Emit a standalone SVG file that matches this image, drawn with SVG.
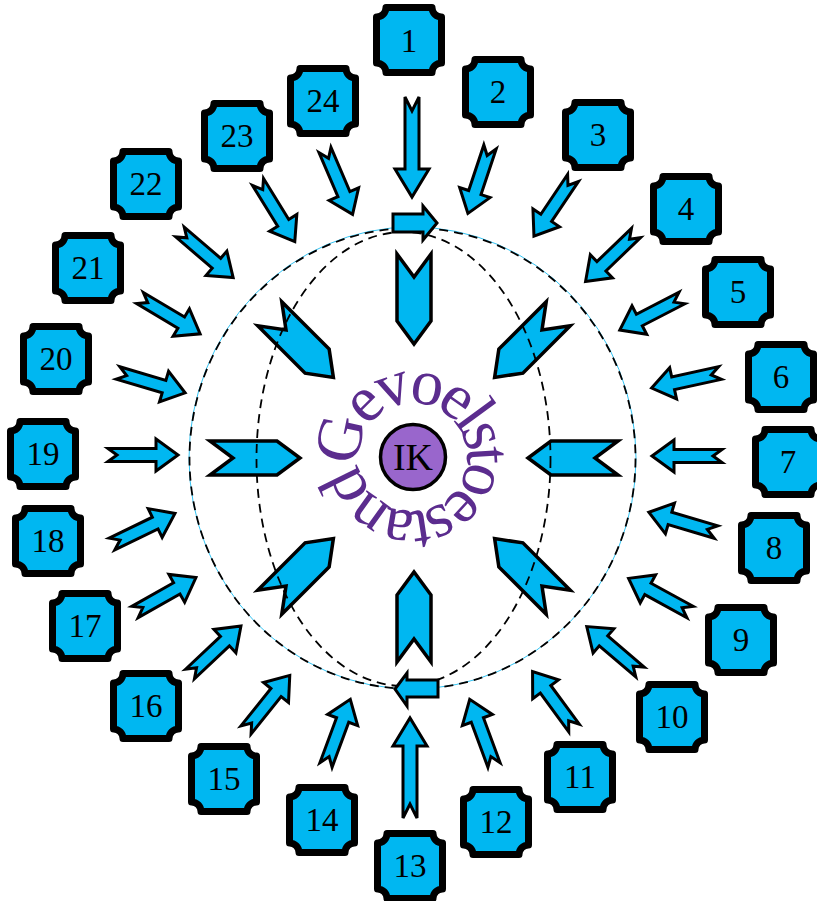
<svg xmlns="http://www.w3.org/2000/svg" xmlns:xlink="http://www.w3.org/1999/xlink" width="817" height="901" viewBox="0 0 817 901">
<style>
.bx{fill:#00B7F1;stroke:#000;stroke-width:7;stroke-linejoin:round}
.ar{fill:#00B7F1;stroke:#000;stroke-width:3;stroke-linejoin:miter}
.ia{fill:#00B7F1;stroke:#000;stroke-width:3.5;stroke-linejoin:miter}
.lb{font-family:"Liberation Serif","Times New Roman",serif;font-size:33px;fill:#000;text-anchor:middle}
.dash{fill:none;stroke:#000;stroke-width:1.8;stroke-dasharray:9 6}
</style>
<defs>
<path id="box" d="M-23,-32.5 H23 A9.5,9.5 0 0 0 32.5,-23 V23 A9.5,9.5 0 0 0 23,32.5 H-23 A9.5,9.5 0 0 0 -32.5,23 V-23 A9.5,9.5 0 0 0 -23,-32.5 Z"/>
<path id="a70" d="M0,-6.5 H48 V-16 L70,0 L48,16 V6.5 H0 L9,0 Z"/>
<path id="a100" d="M0,-7 H72 V-17 L100,0 L72,17 V7 H0 L14,0 Z"/>
<path id="inner" d="M0,-17 H67 L90,0 L67,17 H0 L23,0 Z"/>
<path id="arc" d="M359.8,466.4 A54,54 0 1 1 466.2,447.6 A54,54 0 1 1 359.8,466.4"/>
</defs>
<rect width="817" height="901" fill="#fff"/>

<g id="connectors">
<use href="#a100" class="ar" transform="translate(412,97) rotate(90)"/>
<use href="#a70" class="ar" transform="translate(490,147) rotate(108.4)"/>
<use href="#a70" class="ar" transform="translate(573,178) rotate(123.9)"/>
<use href="#a70" class="ar" transform="translate(636,233) rotate(136.1)"/>
<use href="#a70" class="ar" transform="translate(682,298) rotate(152.7)"/>
<use href="#a70" class="ar" transform="translate(720,373) rotate(167.6)"/>
<use href="#a70" class="ar" transform="translate(722,456) rotate(180)"/>
<use href="#a70" class="ar" transform="translate(716,532) rotate(196.4)"/>
<use href="#a70" class="ar" transform="translate(690,612) rotate(208.7)"/>
<use href="#a70" class="ar" transform="translate(640,672) rotate(220.5)"/>
<use href="#a70" class="ar" transform="translate(574,728) rotate(233.7)"/>
<use href="#a70" class="ar" transform="translate(494,765) rotate(249.7)"/>
<use href="#a100" class="ar" transform="translate(410,818) rotate(270)"/>
<use href="#a70" class="ar" transform="translate(326,765) rotate(290.3)"/>
<use href="#a70" class="ar" transform="translate(246,730) rotate(308.7)"/>
<use href="#a70" class="ar" transform="translate(190,674) rotate(316.7)"/>
<use href="#a70" class="ar" transform="translate(135,612) rotate(330.5)"/>
<use href="#a70" class="ar" transform="translate(112,544) rotate(334.1)"/>
<use href="#a70" class="ar" transform="translate(108,455)"/>
<use href="#a70" class="ar" transform="translate(118,373) rotate(16.5)"/>
<use href="#a70" class="ar" transform="translate(140,298) rotate(30.8)"/>
<use href="#a70" class="ar" transform="translate(180,232) rotate(40.6)"/>
<use href="#a70" class="ar" transform="translate(258,182) rotate(58.3)"/>
<use href="#a70" class="ar" transform="translate(325,150) rotate(66.8)"/>

<use href="#inner" class="ia" transform="translate(414,458) rotate(0) translate(-204,0)"/>
<use href="#inner" class="ia" transform="translate(414,458) rotate(45) translate(-204,0)"/>
<use href="#inner" class="ia" transform="translate(414,458) rotate(90) translate(-204,0)"/>
<use href="#inner" class="ia" transform="translate(414,458) rotate(135) translate(-204,0)"/>
<use href="#inner" class="ia" transform="translate(414,458) rotate(180) translate(-204,0)"/>
<use href="#inner" class="ia" transform="translate(414,458) rotate(225) translate(-204,0)"/>
<use href="#inner" class="ia" transform="translate(414,458) rotate(270) translate(-204,0)"/>
<use href="#inner" class="ia" transform="translate(414,458) rotate(315) translate(-204,0)"/>

<ellipse cx="412.5" cy="458" rx="223.5" ry="231" fill="none" stroke="#33C4F4" stroke-width="1"/>
<ellipse class="dash" cx="412.5" cy="458.5" rx="223" ry="230.5"/>
<ellipse class="dash" cx="403.5" cy="459" rx="147" ry="227"/>

<path class="ar" d="M393,214 H423 V206 L437,223 L423,240 V232 H393 Z"/>
<path class="ar" d="M438,680 H407 V673 L395,689 L407,706 V697 H438 Z"/>
</g>

<g id="center">
<circle cx="413" cy="457" r="32.5" fill="#9966CC" stroke="#000" stroke-width="3.5"/>
<text x="413" y="470" font-family="Liberation Serif, Times New Roman, serif" font-size="38" text-anchor="middle" fill="#000">IK</text>
<text font-family="Liberation Serif, Times New Roman, serif" font-size="65" letter-spacing="-6.2" fill="#5B2C8E"><textPath href="#arc">Gevoelstoestand</textPath></text>
</g>

<g id="node1"><use href="#box" class="bx" x="409" y="40"/><text class="lb" x="409" y="52">1</text></g>
<g id="node2"><use href="#box" class="bx" x="498" y="92"/><text class="lb" x="498" y="103">2</text></g>
<g id="node3"><use href="#box" class="bx" x="598" y="135"/><text class="lb" x="598" y="146">3</text></g>
<g id="node4"><use href="#box" class="bx" x="686" y="209"/><text class="lb" x="686" y="220">4</text></g>
<g id="node5"><use href="#box" class="bx" x="738" y="292"/><text class="lb" x="738" y="303">5</text></g>
<g id="node6"><use href="#box" class="bx" x="781" y="377"/><text class="lb" x="781" y="388">6</text></g>
<g id="node7"><use href="#box" class="bx" x="788" y="462"/><text class="lb" x="788" y="473">7</text></g>
<g id="node8"><use href="#box" class="bx" x="774" y="548"/><text class="lb" x="774" y="559">8</text></g>
<g id="node9"><use href="#box" class="bx" x="741" y="640"/><text class="lb" x="741" y="651">9</text></g>
<g id="node10"><use href="#box" class="bx" x="672" y="717"/><text class="lb" x="672" y="728">10</text></g>
<g id="node11"><use href="#box" class="bx" x="580" y="777"/><text class="lb" x="580" y="788">11</text></g>
<g id="node12"><use href="#box" class="bx" x="496" y="822"/><text class="lb" x="496" y="833">12</text></g>
<g id="node13"><use href="#box" class="bx" x="410" y="866"/><text class="lb" x="410" y="877">13</text></g>
<g id="node14"><use href="#box" class="bx" x="322" y="820"/><text class="lb" x="322" y="831">14</text></g>
<g id="node15"><use href="#box" class="bx" x="224" y="779"/><text class="lb" x="224" y="790">15</text></g>
<g id="node16"><use href="#box" class="bx" x="146" y="706"/><text class="lb" x="146" y="717">16</text></g>
<g id="node17"><use href="#box" class="bx" x="85" y="626"/><text class="lb" x="85" y="637">17</text></g>
<g id="node18"><use href="#box" class="bx" x="48" y="541"/><text class="lb" x="48" y="552">18</text></g>
<g id="node19"><use href="#box" class="bx" x="43" y="454"/><text class="lb" x="43" y="465">19</text></g>
<g id="node20"><use href="#box" class="bx" x="56" y="359"/><text class="lb" x="56" y="370">20</text></g>
<g id="node21"><use href="#box" class="bx" x="88" y="268"/><text class="lb" x="88" y="279">21</text></g>
<g id="node22"><use href="#box" class="bx" x="146" y="184"/><text class="lb" x="146" y="195">22</text></g>
<g id="node23"><use href="#box" class="bx" x="237" y="136"/><text class="lb" x="237" y="147">23</text></g>
<g id="node24"><use href="#box" class="bx" x="323" y="101"/><text class="lb" x="323" y="112">24</text></g>
</svg>
